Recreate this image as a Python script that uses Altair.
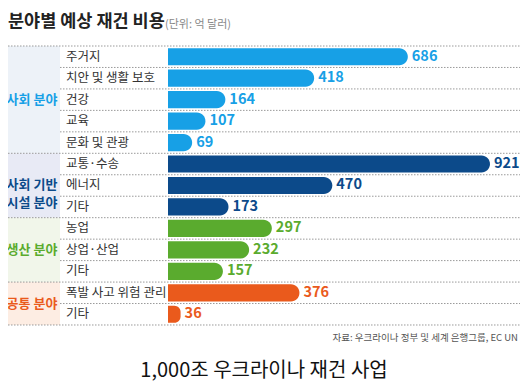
import altair as alt
import pandas as pd

# ---- data ----
group_keys = ["social", "infra", "production", "common"]
group_labels = ["사회 분야", "사회 기반\n시설 분야", "생산 분야", "공통 분야"]
group_sizes = [5, 3, 3, 2]
categories = ["주거지", "치안 및 생활 보호", "건강", "교육", "문화 및 관광",
              "교통·수송", "에너지", "기타",
              "농업", "상업·산업", "기타",
              "폭발 사고 위험 관리", "기타"]
values = [686, 418, 164, 107, 69, 921, 470, 173, 297, 232, 157, 376, 36]

title_text = "분야별 예상 재건 비용"
unit_text = "(단위: 억 달러)"
source_text = "자료: 우크라이나 정부 및 세계 은행그룹, EC UN"
caption_text = "1,000조 우크라이나 재건 사업"

# ---- style ----
bar_colors = ["#17a0e6", "#0c4a8a", "#5aab2e", "#ea5a1c"]
bg_colors = ["#edf2f8", "#e8eaf5", "#f1f6ea", "#fdede3"]
FONT = "Noto Sans CJK KR"
W, H = 512, 376

# ---- tables ----
rows = []
gi = []
for g, n in zip(group_keys, group_sizes):
    gi += [g] * n
for i, (c, v, g) in enumerate(zip(categories, values, gi)):
    rows.append({"row": i, "center": i + 0.5, "top": i + 0.1, "bot": i + 0.9,
                 "zero": 0, "value": v, "label": c, "group": g})
df = pd.DataFrame(rows)

grows = []
start = 0
inner = []
for g, lab, n in zip(group_keys, group_labels, group_sizes):
    grows.append({"group": g, "glabel": lab, "start": start, "end": start + n,
                  "mid": start + n / 2})
    inner += list(range(start + 1, start + n))
    start += n
dg = pd.DataFrame(grows)
outer_b = pd.DataFrame({"b": [0] + [r["end"] for r in grows]})
inner_b = pd.DataFrame({"b": inner})

yscale = alt.Scale(domain=[-1.771, 15.75], range=[0, H], nice=False, zero=False)
xscale = alt.Scale(domain=[-457.7, 1006.9], nice=False, zero=False)
bar_color = alt.Scale(domain=group_keys, range=bar_colors)
bg_color = alt.Scale(domain=group_keys, range=bg_colors)

bg = alt.Chart(dg).mark_rect().encode(
    x=alt.value(0), x2=alt.value(52),
    y=alt.Y("start:Q", scale=yscale, axis=None), y2="end:Q",
    fill=alt.Fill("group:N", scale=bg_color, legend=None),
)

dash = dict(color="#9a9a9a", strokeDash=[1.5, 1.5], strokeWidth=1)
outer_rules = alt.Chart(outer_b).mark_rule(**dash).encode(
    x=alt.value(0), x2=alt.value(W), y=alt.Y("b:Q", scale=yscale, axis=None))
inner_rules = alt.Chart(inner_b).mark_rule(**dash).encode(
    x=alt.value(52), x2=alt.value(W), y=alt.Y("b:Q", scale=yscale, axis=None))

bars = alt.Chart(df).mark_rect(cornerRadiusTopRight=8.5, cornerRadiusBottomRight=8.5).encode(
    x=alt.X("zero:Q", scale=xscale, axis=None), x2="value:Q",
    y=alt.Y("top:Q", scale=yscale, axis=None), y2="bot:Q",
    color=alt.Color("group:N", scale=bar_color, legend=None),
)

vals = alt.Chart(df).mark_text(align="left", baseline="middle", dx=4, font=FONT,
                               fontSize=14.5, fontWeight="bold").encode(
    x=alt.X("value:Q", scale=xscale, axis=None),
    y=alt.Y("center:Q", scale=yscale, axis=None),
    text="value:Q",
    color=alt.Color("group:N", scale=bar_color, legend=None),
)

cats = alt.Chart(df).mark_text(align="left", baseline="middle", font=FONT,
                               fontSize=12.5, color="#333333").encode(
    x=alt.value(58),
    y=alt.Y("center:Q", scale=yscale, axis=None),
    text="label:N",
)

glabels = alt.Chart(dg).mark_text(align="center", baseline="middle", font=FONT,
                                  fontSize=13, fontWeight="bold", lineBreak="\n",
                                  lineHeight=18).encode(
    x=alt.value(24),
    y=alt.Y("mid:Q", scale=yscale, axis=None),
    text="glabel:N",
    color=alt.Color("group:N", scale=bar_color, legend=None),
)

tdf = pd.DataFrame({"t": [title_text], "u": [unit_text], "s": [source_text], "c": [caption_text]})
title = alt.Chart(tdf).mark_text(align="left", baseline="middle", font=FONT, fontSize=17.5,
                                 fontWeight="bold", color="#222222").encode(
    x=alt.value(0), y=alt.value(14), text="t:N")
unit = alt.Chart(tdf).mark_text(align="left", baseline="middle", font=FONT, fontSize=11,
                                color="#888888").encode(
    x=alt.value(157), y=alt.value(17), text="u:N")
source = alt.Chart(tdf).mark_text(align="right", baseline="middle", font=FONT, fontSize=9.5,
                                  color="#555555").encode(
    x=alt.value(W - 2), y=alt.value(330), text="s:N")
caption = alt.Chart(tdf).mark_text(align="center", baseline="middle", font=FONT, fontSize=20,
                                   color="#111111").encode(
    x=alt.value(W / 2), y=alt.value(363), text="c:N")

chart = alt.layer(bg, outer_rules, inner_rules, bars, vals, cats, glabels,
                  title, unit, source, caption).resolve_scale(
    color="independent", fill="independent"
).properties(
    width=W, height=H, padding=0, autosize=alt.AutoSizeParams(type="none"),
    background="white"
).configure_view(stroke=None)

chart.save("out.html", embed_options={"renderer": "svg", "actions": False})
